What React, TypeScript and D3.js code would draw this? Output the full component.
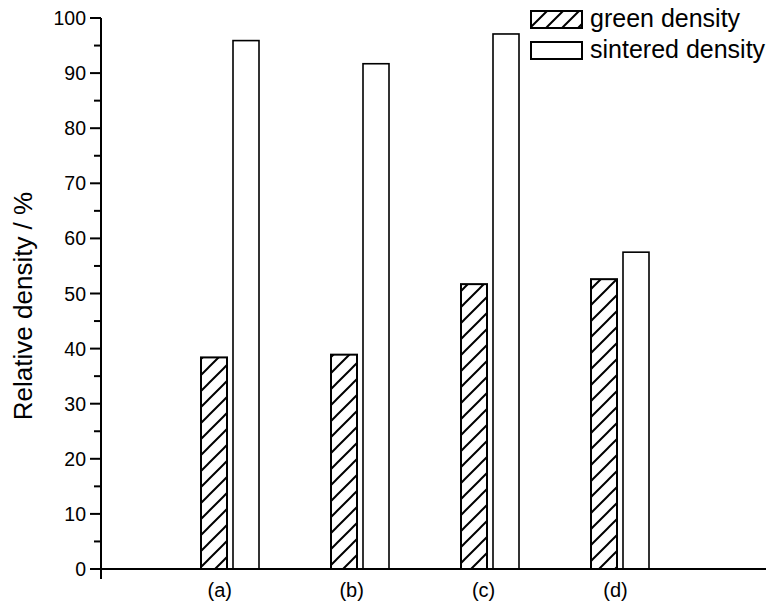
import React from "react";
import * as d3 from "d3";

const categories = ["(a)", "(b)", "(c)", "(d)"];
const greenDensity = [38.4, 38.9, 51.7, 52.6];
const sinteredDensity = [95.9, 91.7, 97.1, 57.5];
const seriesNames = ["green density", "sintered density"];
const yMajorTicks = d3.range(0, 101, 10);
const yMinorTicks = d3.range(5, 100, 10);

const W = 771;
const H = 602;
const FONT = "'Liberation Sans', Arial, sans-serif";

export default function App() {
  const y = d3.scaleLinear().domain([0, 100]).range([569, 18]);
  const x = d3.scaleBand().domain(categories).range([165, 685]).padding(0);
  const xLabel = d3.scalePoint().domain(categories).range([219.7, 615.5]);
  const axisX = 101;
  const barW = 26;
  const gap = 6;

  return (
    <svg width={W} height={H} style={{ position: "absolute", left: 0, top: 0, background: "#fff" }}>
      <defs>
        <pattern id="hatch" patternUnits="userSpaceOnUse" width={16} height={16}>
          <rect width={16} height={16} fill="#fff" />
          <path d="M0,16 L16,0 M-4,4 L4,-4 M12,20 L20,12" stroke="#000" strokeWidth={2} />
        </pattern>
      </defs>
      <rect width={W} height={H} fill="#fff" />

      {/* bars */}
      {categories.map((c, i) => {
        const cx = (x(c) as number) + x.bandwidth() / 2;
        return (
          <g key={c}>
            <rect
              x={cx - gap / 2 - barW}
              y={y(greenDensity[i])}
              width={barW}
              height={y(0) - y(greenDensity[i])}
              fill="url(#hatch)"
              stroke="#000"
              strokeWidth={2}
            />
            <rect
              x={cx + gap / 2}
              y={y(sinteredDensity[i])}
              width={barW}
              height={y(0) - y(sinteredDensity[i])}
              fill="#fff"
              stroke="#000"
              strokeWidth={1.6}
            />
          </g>
        );
      })}

      {/* axes */}
      <line x1={axisX} x2={766} y1={y(0)} y2={y(0)} stroke="#000" strokeWidth={2} />
      <line x1={axisX} x2={axisX} y1={y(100)} y2={579} stroke="#000" strokeWidth={2} />
      {yMajorTicks.map((t) => (
        <g key={"M" + t}>
          <line x1={axisX - 11} x2={axisX} y1={y(t)} y2={y(t)} stroke="#000" strokeWidth={2} />
          <text
            x={86}
            y={y(t)}
            dy="0.36em"
            textAnchor="end"
            fontFamily={FONT}
            fontSize={19.5}
            fill="#000"
          >
            {t}
          </text>
        </g>
      ))}
      {yMinorTicks.map((t) => (
        <line key={"m" + t} x1={axisX - 7} x2={axisX} y1={y(t)} y2={y(t)} stroke="#000" strokeWidth={2} />
      ))}
      {categories.map((c) => (
        <text
          key={"l" + c}
          x={xLabel(c)}
          y={597}
          textAnchor="middle"
          fontFamily={FONT}
          fontSize={20}
          fill="#000"
        >
          {c}
        </text>
      ))}
      <text
        transform={`translate(32,306) rotate(-90)`}
        textAnchor="middle"
        fontFamily={FONT}
        fontSize={26}
        fill="#000"
      >
        Relative density / %
      </text>

      {/* legend */}
      {seriesNames.map((s, i) => (
        <g key={s} transform={`translate(531,${11 + i * 31})`}>
          <rect
            width={51}
            height={17}
            fill={i === 0 ? "url(#hatch)" : "#fff"}
            stroke="#000"
            strokeWidth={2}
          />
          <text x={59} y={16} fontFamily={FONT} fontSize={25} fill="#000">
            {s}
          </text>
        </g>
      ))}
    </svg>
  );
}
